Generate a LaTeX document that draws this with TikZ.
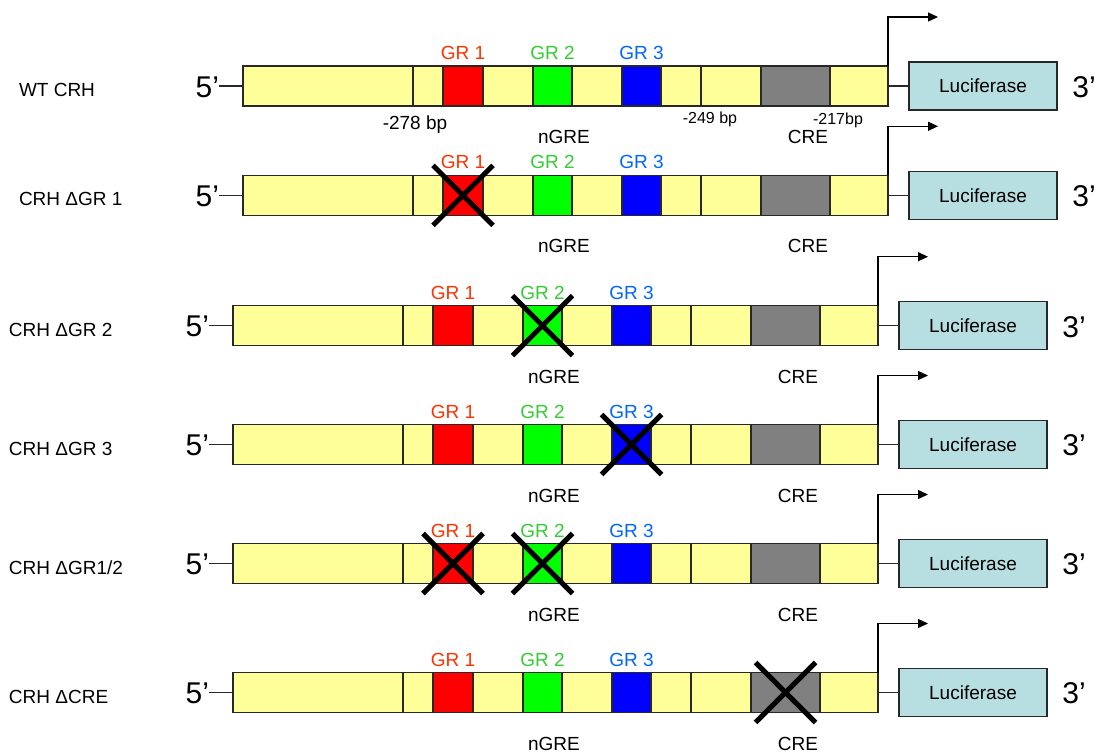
\documentclass[tikz,border=0pt]{standalone}
\usepackage{fontspec}
\setmainfont{Liberation Sans}
\usetikzlibrary{arrows.meta}
\definecolor{baryellow}{RGB}{255,255,153}
\definecolor{lucblue}{RGB}{183,222,225}
\definecolor{grone}{RGB}{255,51,0}
\definecolor{grtwo}{RGB}{51,204,51}
\definecolor{grthree}{RGB}{0,102,255}
\definecolor{boxred}{RGB}{255,0,0}
\definecolor{boxgreen}{RGB}{0,255,0}
\definecolor{boxblue}{RGB}{0,0,255}
\definecolor{boxgray}{RGB}{128,128,128}
\definecolor{edge}{RGB}{40,40,40}
\tikzset{
  every node/.style={inner sep=0pt, outer sep=0pt},
  seg/.style={draw=edge, line width=1.2pt, fill=baryellow, minimum height=40pt, anchor=west},
  rowlabel/.style={font=\fontsize{19}{21}\selectfont, anchor=west},
  endlabel/.style={font=\fontsize{30}{32}\selectfont},
  sitelabel/.style={font=\fontsize{19}{21}\selectfont},
  bplabel/.style={font=\fontsize{16}{18}\selectfont, anchor=base},
  lucbox/.style={draw=edge, line width=1.2pt, fill=lucblue, minimum width=148pt, minimum height=48pt, font=\fontsize{19}{21}\selectfont},
  knock/.style={line width=5pt, draw=black},
  startarrow/.style={line width=1.3pt, draw=black, -{Triangle[length=10pt,width=9pt]}},
  link/.style={line width=1.2pt, draw=edge},
}
\newcommand{\crhrow}[4]{%
\begin{scope}[shift={(#2,#3)}]
  \node[seg, minimum width=170pt] (#1s1) at (0,0) {};
  \node[seg, minimum width=30pt] (#1s2) at (170,0) {};
  \node[seg, fill=boxred, minimum width=40pt] (#1red) at (200,0) {};
  \node[seg, minimum width=50pt] (#1s3) at (240,0) {};
  \node[seg, fill=boxgreen, minimum width=39pt] (#1green) at (290,0) {};
  \node[seg, minimum width=50pt] (#1s4) at (329,0) {};
  \node[seg, fill=boxblue, minimum width=39pt] (#1blue) at (379,0) {};
  \node[seg, minimum width=40pt] (#1s5) at (418,0) {};
  \node[seg, minimum width=60pt] (#1s6) at (458,0) {};
  \node[seg, fill=boxgray, minimum width=69pt] (#1gray) at (518,0) {};
  \node[seg, minimum width=58pt] (#1s7) at (587,0) {};
  \node[sitelabel, text=grone] (#1lone) at ([yshift=13pt]#1red.north) {GR 1};
  \node[sitelabel, text=grtwo] (#1ltwo) at ([yshift=13pt]#1green.north) {GR 2};
  \node[sitelabel, text=grthree] (#1lthree) at ([yshift=13pt]#1blue.north) {GR 3};
  \node[sitelabel] (#1ngre) at (321,51) {nGRE};
  \node[sitelabel] (#1cre) at (565,51) {CRE};
  \node[endlabel, anchor=east] (#1five) at (-24,1) {5’};
  \draw[link] (#1five.east |- #1s1.west) -- (#1s1.west);
  \node[lucbox] (#1luc) at (740,0) {Luciferase};
  \draw[link] (#1s7.east) -- (#1luc.west);
  \node[endlabel] (#1three) at (841,1) {3’};
  \coordinate (#1bend) at (645,-69);
  \coordinate (#1tip) at (695,-69);
  \draw[startarrow] (#1s7.north east) -- (#1bend) -- (#1tip);
  \node[rowlabel] (#1name) at (-224,4) {#4};
\end{scope}}
\newcommand{\knockout}[1]{%
  \draw[knock] ([shift={(-30pt,30pt)}]#1.center) -- ([shift={(30pt,-30pt)}]#1.center);
  \draw[knock] ([shift={(30pt,30pt)}]#1.center) -- ([shift={(-30pt,-30pt)}]#1.center);}
\begin{document}
\begin{tikzpicture}[x=1pt, y=-1pt]
\useasboundingbox (0,0) rectangle (1097,752);
\crhrow{ra}{243}{86}{WT CRH}
\crhrow{rb}{243}{195.3}{CRH ΔGR 1}
\crhrow{rc}{233}{325.7}{CRH ΔGR 2}
\crhrow{rd}{233}{444.5}{CRH ΔGR 3}
\crhrow{re}{233}{563.5}{CRH ΔGR1/2}
\crhrow{rf}{233}{692.5}{CRH ΔCRE}
\node[bplabel, font=\fontsize{19}{21}\selectfont] (bpa) at (415,129) {-278 bp};
\node[bplabel] (bpb) at (710,123.5) {-249 bp};
\node[bplabel] (bpc) at (838,124.7) {-217bp};
\knockout{rbred}
\knockout{rcgreen}
\knockout{rdblue}
\knockout{rered}
\knockout{regreen}
\knockout{rfgray}
\end{tikzpicture}
\end{document}
